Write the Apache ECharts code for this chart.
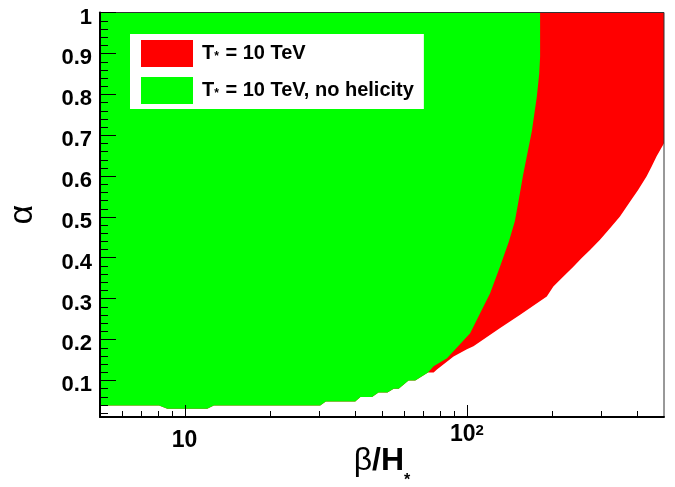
<!DOCTYPE html>
<html><head><meta charset="utf-8">
<script src="https://cdn.jsdelivr.net/npm/echarts@6/dist/echarts.min.js"></script>
<style>html,body{margin:0;padding:0;background:#fff}#c{width:675px;height:487px}</style>
</head><body><div id="c"></div>
<script>
// ---- axis ranges & ticks ----
const X_MIN = 5, X_MAX = 500, Y_MIN = 0.01, Y_MAX = 1;
const xMinorTicks = [6, 7, 8, 9, 20, 30, 40, 50, 60, 70, 80, 90, 200, 300, 400];
const yMinorTicks = [0.02, 0.04, 0.06, 0.08, 0.12, 0.14, 0.16, 0.18, 0.22, 0.24, 0.26, 0.28,
  0.32, 0.34, 0.36, 0.38, 0.42, 0.44, 0.46, 0.48, 0.52, 0.54, 0.56, 0.58, 0.62, 0.64, 0.66, 0.68,
  0.72, 0.74, 0.76, 0.78, 0.82, 0.84, 0.86, 0.88, 0.92, 0.94, 0.96, 0.98];

// ---- series names ----
const seriesNames = ['T* = 10 TeV', 'T* = 10 TeV, no helicity'];

// ---- lower (common) boundary, left to right ----
const stairX = [5, 8.1, 8.66, 12.0, 12.67, 30.2, 31.6, 40.2, 41.9, 46.1, 48.6, 52.3, 55.0, 57.3, 62.1, 65.6, 72.8];
const stairY = [0.038, 0.038, 0.030, 0.030, 0.038, 0.038, 0.048, 0.048, 0.059, 0.059, 0.070, 0.070, 0.079, 0.079, 0.0995, 0.0995, 0.119];

// ---- right edge of the "no helicity" region, bottom to top ----
const greenEdgeX = [72.8, 76.2, 85.0, 92.2, 102.7, 111.4, 120.9, 131.0, 141.0, 148.0, 153.0, 158.0, 163.0, 170.0, 177.0, 180.5, 181.8, 181.8];
const greenEdgeY = [0.119, 0.134, 0.154, 0.180, 0.215, 0.264, 0.313, 0.378, 0.440, 0.490, 0.545, 0.600, 0.647, 0.710, 0.794, 0.850, 0.892, 1.0];

// ---- lower-right edge of the "with helicity" region, left to right ----
const redEdgeX = [72.8, 76.2, 78.3, 89.7, 100, 105.5, 131.2, 154.5, 192, 202.6, 219.9, 238.5, 255.4, 273.3, 296.5, 321.7, 349, 378.7, 405.2, 434, 452, 470.8, 500];
const redEdgeY = [0.119, 0.119, 0.126, 0.158, 0.176, 0.183, 0.228, 0.260, 0.305, 0.3295, 0.354, 0.378, 0.399, 0.419, 0.444, 0.472, 0.501, 0.537, 0.566, 0.599, 0.623, 0.648, 0.680];

const FONT = '"Liberation Sans", Arial, Helvetica, sans-serif';

function zip(xs, ys) { return xs.map((x, i) => [x, ys[i]]); }
const stairRev = zip(stairX, stairY).reverse();
const redPoly = [[X_MIN, Y_MAX], [X_MAX, Y_MAX]].concat(zip(redEdgeX, redEdgeY).reverse(), stairRev.slice(1));
const greenPoly = [[X_MIN, Y_MAX]].concat(zip(greenEdgeX, greenEdgeY).reverse(), stairRev.slice(1));

function polygonSeries(name, pts, color) {
  return {
    type: 'custom', name: name, coordinateSystem: 'cartesian2d',
    data: pts, encode: { x: 0, y: 1 }, itemStyle: { color: color },
    silent: true, animation: false, z: 2,
    renderItem: function (params, api) {
      if (params.dataIndex !== 0) return null;
      return { type: 'polygon', shape: { points: pts.map(p => api.coord(p)) }, style: { fill: color } };
    }
  };
}
function tickSeries(data, horizontal, len) {
  return {
    type: 'custom', coordinateSystem: 'cartesian2d', data: data, encode: { x: 0, y: 1 },
    silent: true, animation: false, z: 12,
    renderItem: function (params, api) {
      const p = api.coord([api.value(0), api.value(1)]);
      const s = horizontal
        ? { x1: p[0], y1: Math.round(p[1]) + 0.5, x2: p[0] + len, y2: Math.round(p[1]) + 0.5 }
        : { x1: Math.round(p[0]) + 0.5, y1: p[1], x2: Math.round(p[0]) + 0.5, y2: p[1] - len };
      return { type: 'line', shape: s, style: { stroke: '#000', lineWidth: 1 } };
    }
  };
}

const chart = echarts.init(document.getElementById('c'), null, { renderer: 'canvas' });
chart.setOption({
  animation: false,
  backgroundColor: '#fff',
  grid: { left: 100, right: 11, top: 12.5, bottom: 70, containLabel: false, outerBoundsMode: 'none',
    show: true, borderColor: '#333', borderWidth: 1, backgroundColor: 'transparent', z: 3 },
  legend: {
    left: 130, top: 34, orient: 'vertical', icon: 'rect', itemWidth: 52, itemHeight: 27, itemGap: 10,
    backgroundColor: '#fff', padding: [6, 10, 5, 11], selectedMode: false, data: seriesNames, z: 20,
    formatter: function (name) {
      const parts = name.split('*');
      return '{t0|' + parts[0] + '}{s|*}{t|' + parts[1] + '}';
    },
    textStyle: {
      fontFamily: FONT, fontWeight: 'bold', fontSize: 20, color: '#000',
      rich: {
        t0: { fontFamily: FONT, fontWeight: 'bold', fontSize: 20, color: '#000', padding: [0, 0, 0, 4] },
        t: { fontFamily: FONT, fontWeight: 'bold', fontSize: 20, color: '#000' },
        s: { fontFamily: FONT, fontWeight: 'bold', fontSize: 12, lineHeight: 12, color: '#000', padding: [6, 1, 0, 0] }
      }
    }
  },
  xAxis: {
    type: 'log', logBase: 10, min: X_MIN, max: X_MAX, z: 10,
    axisLine: { show: true, onZero: false, lineStyle: { color: '#000', width: 2 } },
    axisTick: { show: true, inside: true, length: 12, lineStyle: { color: '#000', width: 1 } },
    minorTick: { show: false }, splitLine: { show: false },
    axisLabel: {
      showMinLabel: false, showMaxLabel: false, margin: 6,
      fontFamily: FONT, fontWeight: 'bold', fontSize: 23, color: '#000',
      formatter: function (v) {
        const e = Math.round(Math.log10(v));
        return e === 1 ? '{m|10}{z| }' : '{m|10}{s|' + e + '}';
      },
      rich: {
        m: { fontFamily: FONT, fontWeight: 'bold', fontSize: 23, lineHeight: 23, color: '#000', verticalAlign: 'bottom' },
        z: { fontFamily: FONT, fontSize: 2, lineHeight: 29, color: '#000', verticalAlign: 'top' },
        s: { fontFamily: FONT, fontWeight: 'bold', fontSize: 15, lineHeight: 15, color: '#000', verticalAlign: 'top' }
      }
    },
    name: '{b|β}{m|/H}{s|*}', nameLocation: 'middle', nameGap: 28, nameMoveOverlap: false,
    nameTextStyle: {
      rich: {
        b: { fontFamily: FONT, fontSize: 32, lineHeight: 32, color: '#000', verticalAlign: 'top' },
        m: { fontFamily: FONT, fontWeight: 'bold', fontSize: 32, lineHeight: 32, color: '#000', verticalAlign: 'top' },
        s: { fontFamily: FONT, fontWeight: 'bold', fontSize: 16, lineHeight: 44, color: '#000', verticalAlign: 'bottom' }
      }
    }
  },
  yAxis: {
    type: 'value', min: Y_MIN, max: Y_MAX, splitNumber: 10, z: 10,
    axisLine: { show: true, onZero: false, lineStyle: { color: '#000', width: 2 } },
    axisTick: { show: true, inside: true, length: 16, lineStyle: { color: '#000', width: 1 } },
    splitLine: { show: false },
    axisLabel: {
      showMinLabel: false, margin: 8, fontFamily: FONT, fontWeight: 'bold', fontSize: 22, color: '#000',
      formatter: function (v) { return '{v|' + v + '}'; },
      rich: { v: { fontFamily: FONT, fontWeight: 'bold', fontSize: 22, lineHeight: 22, color: '#000', padding: [10, 0, 0, 0] } }
    },
    name: 'α', nameLocation: 'middle', nameGap: 60, nameRotate: 90, nameMoveOverlap: false,
    nameTextStyle: { fontFamily: FONT, fontSize: 34, color: '#000' }
  },
  series: [
    polygonSeries(seriesNames[0], redPoly, '#ff0000'),
    polygonSeries(seriesNames[1], greenPoly, '#00ff00'),
    tickSeries(xMinorTicks.map(v => [v, Y_MIN]), false, 6),
    tickSeries(yMinorTicks.map(v => [X_MIN, v]), true, 8)
  ]
});
</script></body></html>
